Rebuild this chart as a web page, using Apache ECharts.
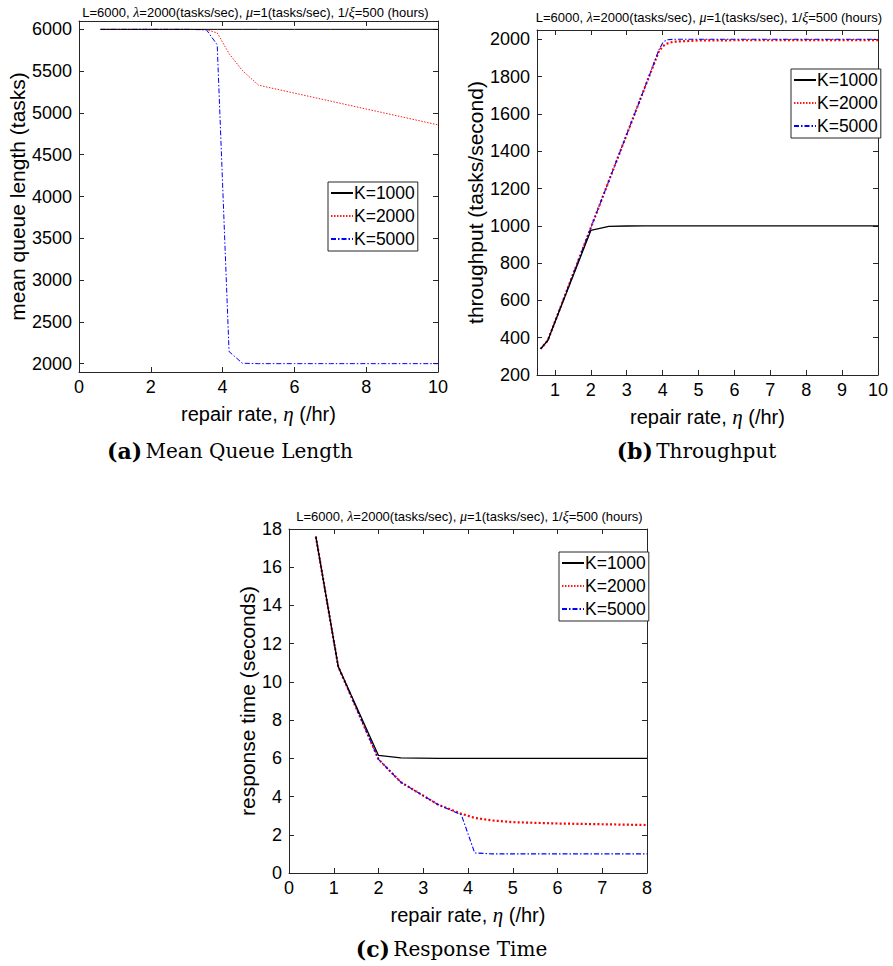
<!DOCTYPE html>
<html><head><meta charset="utf-8">
<script src="https://cdn.jsdelivr.net/npm/echarts@6/dist/echarts.min.js"></script>
<style>html,body{margin:0;padding:0;background:#fff}#c{width:893px;height:966px}</style>
</head><body><div id="c"></div>
<script>
// ---------- data ----------
const seriesNames = ['K=1000', 'K=2000', 'K=5000'];

// (a) mean queue length
const etaA = [0.6, 1.1, 2, 2.5, 3, 3.55, 3.85, 4.18, 4.55, 5, 6, 7, 8, 9, 10];
const queueK1000 = [6000, 6000, 6000, 6000, 6000, 6000, 6000, 6000, 6000, 6000, 6000, 6000, 6000, 6000, 6000];
const queueK2000 = [6000, 6000, 6000, 6000, 6000, 5995, 5958, 5710, 5508, 5332, 5237, 5142, 5047, 4952, 4857];
const queueK5000 = [6000, 6000, 6000, 6000, 6000, 5995, 5815, 2145, 2005, 2000, 2000, 2000, 2000, 2000, 2000];

// (b) throughput
const etaB = [0.6, 0.8, 2, 2.5, 3, 3.5, 3.9, 4, 4.1, 4.3, 5, 6, 7, 8, 9, 10];
const thrK1000 = [340, 385, 975, 997, 999, 1000, 1000, 1000, 1000, 1000, 1000, 1000, 1000, 1000, 1000, 1000];
const thrK2000 = [340, 385, 990, 1240, 1490, 1740, 1938, 1962, 1976, 1987, 1994, 1995, 1995, 1996, 1996, 1996];
const thrK5000 = [340, 385, 990, 1240, 1490, 1740, 1945, 1980, 1997, 2000, 2000, 2000, 2000, 2000, 2000, 2000];

// (c) response time
const etaC = [0.6, 1.1, 2, 2.5, 3.33, 3.85, 4.15, 4.55, 5, 6, 7, 8];
const respK1000 = [17.6, 10.8, 6.15, 6.02, 6.0, 6.0, 6.0, 6.0, 6.0, 6.0, 6.0, 6.0];
const respK2000 = [17.6, 10.8, 5.95, 4.75, 3.58, 3.1, 2.88, 2.75, 2.66, 2.59, 2.55, 2.51];
const respK5000 = [17.6, 10.8, 5.95, 4.75, 3.58, 3.05, 1.05, 1.0, 1.0, 1.0, 1.0, 1.0];

// tick labels
const ticksAx = [0, 2, 4, 6, 8, 10];
const ticksAy = [2000, 2500, 3000, 3500, 4000, 4500, 5000, 5500, 6000];
const ticksBx = [1, 2, 3, 4, 5, 6, 7, 8, 9, 10];
const ticksBy = [200, 400, 600, 800, 1000, 1200, 1400, 1600, 1800, 2000];
const ticksCx = [0, 1, 2, 3, 4, 5, 6, 7, 8];
const ticksCy = [0, 2, 4, 6, 8, 10, 12, 14, 16, 18];

const titleText = 'L=6000, {i|λ}=2000(tasks/sec), {i|μ}=1(tasks/sec), 1/{i|ξ}=500 (hours)';
const xName = 'repair rate, {i|η} (/hr)';
const yNames = ['mean queue length (tasks)', 'throughput (tasks/second)', 'response time (seconds)'];
const captions = [['(a)', 'Mean Queue Length'], ['(b)', 'Throughput'], ['(c)', 'Response Time']];

// ---------- build ----------
const SANS = 'Liberation Sans, Arial, Helvetica, sans-serif';
const AX = '#262626';
const zip = (xs, ys) => xs.map((x, i) => [x, ys[i]]);

const grids = [
  {left: 79, top: 21, width: 359, height: 351},
  {left: 537, top: 30, width: 341, height: 345},
  {left: 289, top: 529, width: 358, height: 344}
];
const ranges = [
  {x: [0, 10], y: [1900, 6100], xt: ticksAx, yt: ticksAy, yGap: 48},
  {x: [0.5, 10], y: [200, 2050], xt: ticksBx, yt: ticksBy, yGap: 50},
  {x: [0, 8], y: [0, 18], xt: ticksCx, yt: ticksCy, yGap: 28}
];

const xAxes = [], yAxes = [];
ranges.forEach((r, g) => {
  const common = (ticks) => ({
    type: 'value', gridIndex: g,
    splitLine: {show: false},
    axisLine: {show: true, onZero: false, lineStyle: {color: AX, width: 1}},
    axisTick: {show: true, inside: true, length: 5, customValues: ticks, lineStyle: {color: AX, width: 1}}
  });
  xAxes.push(Object.assign(common(r.xt), {
    min: r.x[0], max: r.x[1], position: 'bottom',
    axisLabel: {customValues: r.xt, color: '#000', fontSize: 18, fontFamily: SANS, margin: 6, formatter: v => String(v)},
    name: xName, nameLocation: 'middle', nameGap: 31,
    nameTextStyle: {color: '#000', fontSize: 20, fontFamily: SANS,
      rich: {i: {fontStyle: 'italic', fontFamily: 'Liberation Serif, serif', fontSize: 21, color: '#000'}}}
  }));
  xAxes.push(Object.assign(common(r.xt), {
    min: r.x[0], max: r.x[1], position: 'top', axisLabel: {show: false}
  }));
  yAxes.push(Object.assign(common(r.yt), {
    min: r.y[0], max: r.y[1], position: 'left',
    axisLabel: {customValues: r.yt, color: '#000', fontSize: 18, fontFamily: SANS, margin: 7, formatter: v => String(v)},
    name: yNames[g], nameLocation: 'middle', nameGap: r.yGap,
    nameTextStyle: {color: '#000', fontSize: 21, fontFamily: SANS}
  }));
  yAxes.push(Object.assign(common(r.yt), {
    min: r.y[0], max: r.y[1], position: 'right', axisLabel: {show: false}
  }));
});

const thin = [
  {color: '#000000', width: 1, type: 'solid'},
  {color: '#ff1a1a', width: 1, type: [1.5, 1.5]},
  {color: '#0000ff', width: 1, type: [5, 2, 1.5, 2]}
];
const thick = [
  {color: '#000000', width: 1.3, type: 'solid'},
  {color: '#ff0000', width: 2.2, type: [2, 2.2]},
  {color: '#0000ff', width: 1.1, type: [5, 2, 1.5, 2]}
];

const panelData = [
  {eta: etaA, vals: [queueK1000, queueK2000, queueK5000], styles: thin},
  {eta: etaB, vals: [thrK1000, thrK2000, thrK5000], styles: thick},
  {eta: etaC, vals: [respK1000, respK2000, respK5000], styles: thick}
];

const series = [];
panelData.forEach((p, g) => {
  // draw order: K=2000, K=5000, then K=1000 on top
  [1, 2, 0].forEach((k, ord) => {
    series.push({
      type: 'line', name: seriesNames[k],
      xAxisIndex: g * 2, yAxisIndex: g * 2,
      data: zip(p.eta, p.vals[k]),
      symbol: 'none', showSymbol: false,
      color: p.styles[k].color,
      lineStyle: p.styles[k],
      z: 2 + ord, silent: true, animation: false
    });
  });
});

const legendPos = [
  {left: 328, top: 182},
  {left: 791, top: 69},
  {left: 559, top: 552}
];
const legends = legendPos.map(pos => ({
  orient: 'vertical', left: pos.left, top: pos.top,
  data: seriesNames,
  itemWidth: 22, itemHeight: 12, itemGap: 5,
  padding: [2, 3, 3, 2],
  borderColor: AX, borderWidth: 1, backgroundColor: '#fff',
  itemStyle: {opacity: 0, color: 'rgba(0,0,0,0)', borderWidth: 0},
  textStyle: {fontSize: 17.5, color: '#000', fontFamily: SANS, padding: [0, 0, 0, -4]},
  selectedMode: false
}));

const titlePos = [[255.5, 12], [709, 17], [469.5, 516]];
const capPos = [[230, 451], [696.5, 451], [451.5, 949]];
const graphic = [];
titlePos.forEach(([x, y]) => graphic.push({
  type: 'text', x: x, y: y, silent: true,
  style: {text: titleText, align: 'center', verticalAlign: 'middle',
    fontSize: 13, fontFamily: SANS, fill: '#000',
    rich: {i: {fontStyle: 'italic', fontFamily: 'Liberation Serif, serif', fontSize: 14, fill: '#000'}}}
}));
capPos.forEach(([x, y], i) => graphic.push({
  type: 'text', x: x, y: y, silent: true,
  style: {text: '{b|' + captions[i][0] + '} {r|' + captions[i][1] + '}', align: 'center', verticalAlign: 'middle',
    fill: '#000',
    rich: {
      b: {fontFamily: 'DejaVu Serif, serif', fontWeight: 'bold', fontSize: 22, fill: '#000'},
      r: {fontFamily: 'DejaVu Serif, serif', fontSize: 20, fill: '#000'}
    }}
}));

const chart = echarts.init(document.getElementById('c'), null, {renderer: 'svg'});
chart.setOption({
  backgroundColor: '#fff',
  animation: false,
  grid: grids,
  xAxis: xAxes,
  yAxis: yAxes,
  legend: legends,
  series: series,
  graphic: graphic
});
</script>
</body></html>
